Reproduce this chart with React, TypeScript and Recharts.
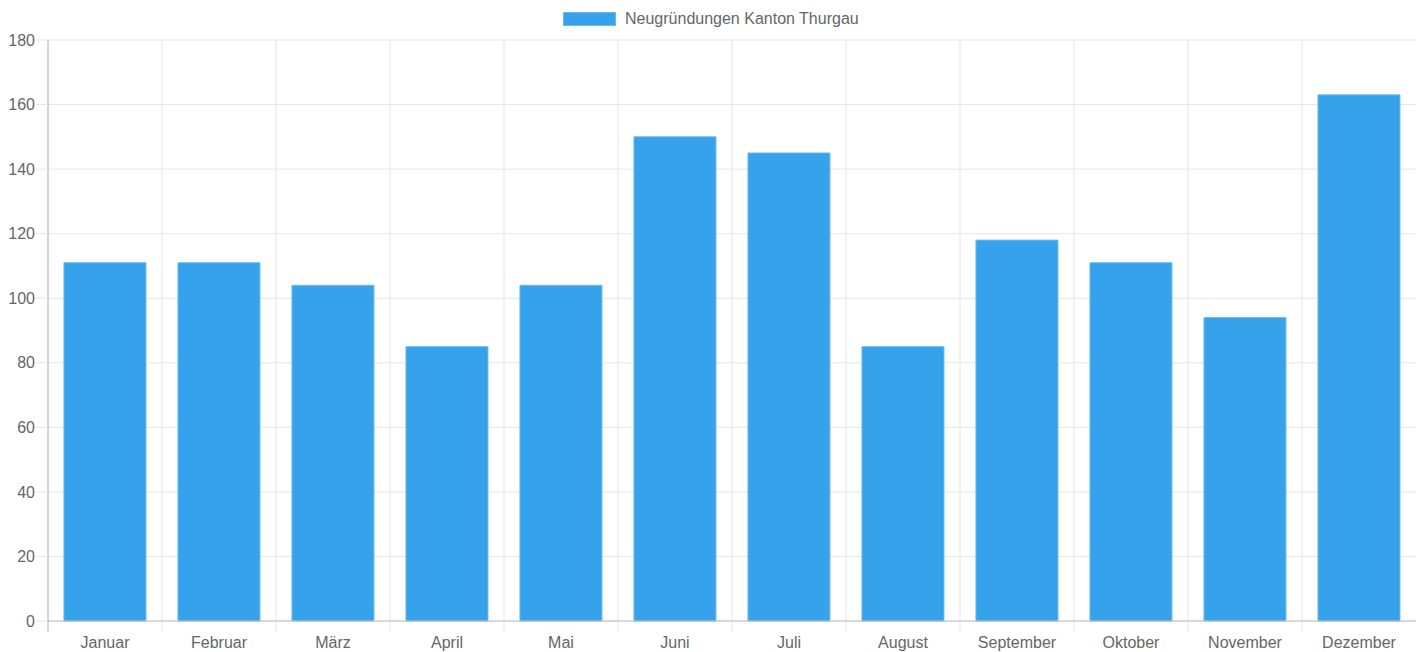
import React from 'react';
import { BarChart, Bar, XAxis, YAxis, CartesianGrid, Legend } from 'recharts';

const months = ['Januar', 'Februar', 'März', 'April', 'Mai', 'Juni', 'Juli', 'August', 'September', 'Oktober', 'November', 'Dezember'];
const values = [111, 111, 104, 85, 104, 150, 145, 85, 118, 111, 94, 163];
const yTicks = [0, 20, 40, 60, 80, 100, 120, 140, 160, 180];
const seriesName = 'Neugründungen Kanton Thurgau';

const data = months.map((m, i) => ({ month: m, value: values[i] }));

const W = 1416;
const H = 652;
const MARGIN = { top: 40, right: 0, bottom: 0, left: 0 };
const Y_W = 48;
const X_H = 31;
const PLOT_W = W - MARGIN.left - MARGIN.right - Y_W;
const BAND = PLOT_W / months.length;
const FONT = '"Liberation Sans", Arial, Helvetica, sans-serif';
const GRID = '#e5e5e5';
const BLUE = '#36A2EB';

const XTick = (props: any) => {
  const { x, y, payload, index } = props;
  const bx = x - BAND / 2;
  return (
    <g>
      <line x1={bx} x2={bx} y1={y} y2={y + 11} stroke={index === 0 ? '#b5b5b5' : GRID} strokeWidth={1} />
      <text x={x} y={y + 27} textAnchor="middle" fill="#666" fontSize={16} fontFamily={FONT}>
        {payload.value}
      </text>
    </g>
  );
};

const LegendContent = () => (
  <div style={{ width: W, height: 30, position: 'relative', fontFamily: FONT }}>
    <div style={{ position: 'absolute', left: 563, top: 12, width: 53, height: 14, background: BLUE, border: '1px solid #6cbaf0', boxSizing: 'border-box' }} />
    <div style={{ position: 'absolute', left: 625, top: 9, fontSize: 16, color: '#666', lineHeight: '19px', whiteSpace: 'nowrap' }}>{seriesName}</div>
  </div>
);

export default function App() {
  return (
    <div style={{ position: 'absolute', left: 0, top: 0, width: W, height: H, background: '#fff' }}>
      <BarChart width={W} height={H} data={data} margin={MARGIN} barCategoryGap="14%">
        <CartesianGrid
          stroke={GRID}
          verticalCoordinatesGenerator={({ offset }: any) =>
            months.map((_, i) => offset.left + i * (offset.width / months.length))
          }
        />
        <XAxis
          dataKey="month"
          height={X_H}
          tickSize={0}
          tickMargin={0}
          tickLine={false}
          axisLine={{ stroke: '#bdbdbd' }}
          tick={<XTick />}
          interval={0}
        />
        <YAxis
          width={Y_W}
          domain={[0, 180]}
          ticks={yTicks}
          interval={0}
          tickSize={12}
          tickMargin={1}
          tickLine={{ stroke: GRID }}
          axisLine={{ stroke: '#b5b5b5' }}
          tick={{ fill: '#666', fontSize: 16, fontFamily: FONT }}
        />
        <Legend
          layout="vertical"
          align="center"
          verticalAlign="middle"
          wrapperStyle={{ top: 0, left: 0, width: W }}
          content={<LegendContent />}
        />
        <Bar dataKey="value" name={seriesName} fill={BLUE} stroke="#6cbaf0" strokeWidth={1} isAnimationActive={false} />
      </BarChart>
    </div>
  );
}
